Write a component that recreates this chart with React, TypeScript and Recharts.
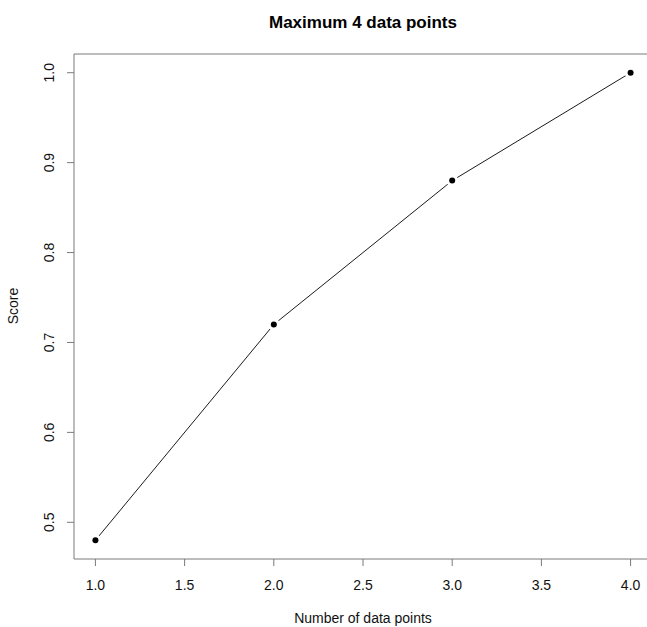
import React from "react";
import { LineChart, Line, XAxis, YAxis, ReferenceArea } from "recharts";

const xValues = [1, 2, 3, 4];
const scores = [0.48, 0.72, 0.88, 1.0];
const xTicks = [1, 1.5, 2, 2.5, 3, 3.5, 4];
const yTicks = [0.5, 0.6, 0.7, 0.8, 0.9, 1.0];
const title = "Maximum 4 data points";
const xLabel = "Number of data points";
const yLabel = "Score";

const data = xValues.map((x, i) => ({ x, score: scores[i] }));

// R-style 4% axis extension
const xPad = (Math.max(...xValues) - Math.min(...xValues)) * 0.04;
const yPad = (Math.max(...scores) - Math.min(...scores)) * 0.04;
const xDomain: [number, number] = [Math.min(...xValues) - xPad, Math.max(...xValues) + xPad];
const yDomain: [number, number] = [Math.min(...scores) - yPad, Math.max(...scores) + yPad];

const FONT = '"Liberation Sans", Arial, sans-serif';
const AXIS_GRAY = "#7a7a7a";

const XTick = (props: any) => {
  const { x, y, payload } = props;
  return (
    <text x={x} y={y + 24} textAnchor="middle" fontFamily={FONT} fontSize={14} fill="#111">
      {Number(payload.value).toFixed(1)}
    </text>
  );
};

const YTick = (props: any) => {
  const { x, y, payload } = props;
  const bx = x - 13;
  return (
    <text
      x={bx}
      y={y}
      transform={`rotate(-90, ${bx}, ${y})`}
      textAnchor="middle"
      fontFamily={FONT}
      fontSize={14}
      fill="#111"
    >
      {Number(payload.value).toFixed(1)}
    </text>
  );
};

const Dot = (props: any) => {
  const { cx, cy } = props;
  if (cx == null || cy == null) return null;
  return (
    <g>
      <circle cx={cx} cy={cy} r={6} fill="#ffffff" stroke="none" />
      <circle cx={cx} cy={cy} r={3} fill="#000000" stroke="none" />
    </g>
  );
};

export default function App() {
  return (
    <div
      style={{
        position: "absolute",
        left: 0,
        top: 0,
        width: 647,
        height: 627,
        overflow: "hidden",
        background: "#ffffff",
      }}
    >
      <LineChart
        width={660}
        height={627}
        data={data}
        margin={{ top: 54, right: 8, bottom: 0, left: 0 }}
      >
        <XAxis
          dataKey="x"
          type="number"
          domain={xDomain}
          ticks={xTicks}
          allowDataOverflow
          axisLine={false}
          tickLine={{ stroke: AXIS_GRAY, strokeWidth: 1 }}
          tickSize={7}
          tickMargin={0}
          height={68}
          tick={<XTick />}
        />
        <YAxis
          type="number"
          domain={yDomain}
          ticks={yTicks}
          allowDataOverflow
          axisLine={false}
          tickLine={{ stroke: AXIS_GRAY, strokeWidth: 1 }}
          tickSize={7}
          tickMargin={0}
          width={74}
          tick={<YTick />}
        />
        <ReferenceArea
          x1={xDomain[0]}
          x2={xDomain[1]}
          y1={yDomain[0]}
          y2={yDomain[1]}
          fill="none"
          fillOpacity={0}
          stroke={AXIS_GRAY}
          strokeWidth={1}
          ifOverflow="visible"
        />
        <Line
          dataKey="score"
          stroke="#000000"
          strokeWidth={0.9}
          dot={<Dot />}
          activeDot={false}
          isAnimationActive={false}
          type="linear"
        />
      </LineChart>
      <svg
        width={647}
        height={627}
        style={{ position: "absolute", left: 0, top: 0, pointerEvents: "none" }}
      >
        <text x={363} y={28} textAnchor="middle" fontFamily={FONT} fontSize={17} fontWeight="bold" fill="#000">
          {title}
        </text>
        <text x={363} y={623} textAnchor="middle" fontFamily={FONT} fontSize={14} fill="#111">
          {xLabel}
        </text>
        <text
          x={18}
          y={306}
          transform="rotate(-90, 18, 306)"
          textAnchor="middle"
          fontFamily={FONT}
          fontSize={14}
          fill="#111"
        >
          {yLabel}
        </text>
      </svg>
    </div>
  );
}
